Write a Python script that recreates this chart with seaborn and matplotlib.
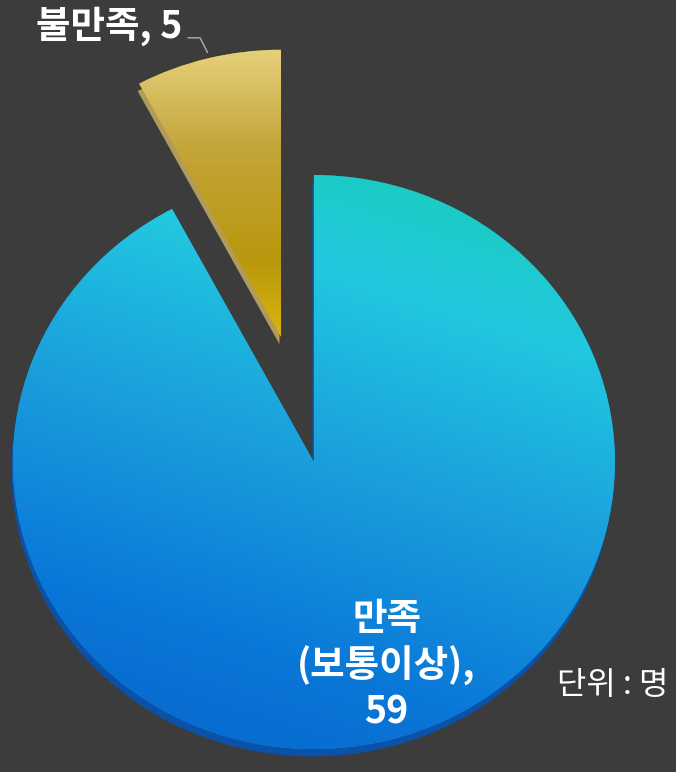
import numpy as np
import seaborn as sns
import matplotlib.pyplot as plt
from matplotlib.colors import LinearSegmentedColormap

# 데이터
labels = ['불만족', '만족\n(보통이상)']
values = [5, 59]
unit_text = '단위 : 명'

sns.set_theme(style='white')
plt.rcParams['font.family'] = ['Noto Sans CJK KR', 'DejaVu Sans']

bg = '#3c3c3c'
fig = plt.figure(figsize=(6.76, 7.72), dpi=100, facecolor=bg)
ax = fig.add_axes([0, 0, 1, 1])
ax.set_facecolor(bg)

explode = [0.45, 0]

# 입체 효과용 옆면 (아래쪽으로 살짝 어긋나게)
side, _ = ax.pie(values, explode=explode, startangle=90, counterclock=True,
                 center=(-0.005, -0.026), colors=['#b09a5c', '#0a52a8'],
                 wedgeprops=dict(linewidth=0))
# 윗면
wedges, _ = ax.pie(values, explode=explode, startangle=90, counterclock=True,
                   colors=['#c8a820', '#1a9ad8'],
                   wedgeprops=dict(linewidth=0))

# 그라데이션 채우기
blue_cmap = LinearSegmentedColormap.from_list(
    'b', ['#0660c8', '#0a78d8', '#1a9edc', '#22c8e0', '#14d0a8'])
gold_cmap = LinearSegmentedColormap.from_list(
    'g', ['#ecc410', '#b8980c', '#c4a53a', '#ecd888'])

yy, xx = np.mgrid[1:-1:300j, -1:1:300j]
t = (yy * 0.9 + xx * 0.3)
t = (t - t.min()) / (t.max() - t.min())
im = ax.imshow(t, cmap=blue_cmap, extent=(-1.05, 1.05, -1.05, 1.05),
               aspect='auto', origin='upper', zorder=2)
im.set_clip_path(wedges[1])

gy = np.linspace(1, 0, 300)[:, None] * np.ones((1, 10))
im2 = ax.imshow(gy, cmap=gold_cmap, extent=(-0.6, 0.1, 0.3, 1.5),
                aspect='auto', origin='upper', zorder=2)
im2.set_clip_path(wedges[0])

ax.set_aspect('auto')
ax.set_xlim(-1.043, 1.203)
ax.set_ylim(-1.080, 1.610)
ax.axis('off')

# 라벨
fig.text(0.162, 0.966, f'{labels[0]}, {values[0]}', color='white',
         fontsize=27, fontweight='bold', ha='center', va='center')
fig.add_artist(plt.Line2D([0.278, 0.296, 0.307], [0.951, 0.951, 0.932],
                          color='#b0b0b0', lw=1))
fig.text(0.572, 0.138, f'{labels[1]},\n{values[1]}', color='white',
         fontsize=27, fontweight='bold', ha='center', va='center',
         linespacing=1.22)
fig.text(0.906, 0.113, unit_text, color='white', fontsize=23,
         ha='center', va='center')

fig.savefig('out.png', dpi=100, facecolor=bg)
